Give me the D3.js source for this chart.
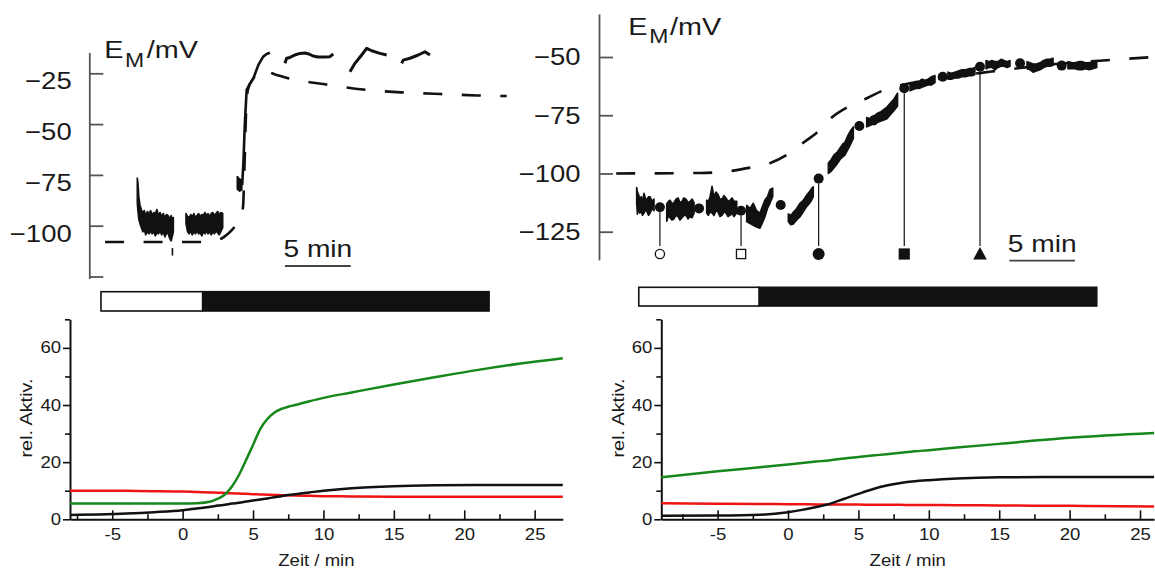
<!DOCTYPE html>
<html><head><meta charset="utf-8">
<script src="https://cdn.jsdelivr.net/npm/d3@7"></script>
<style>body{margin:0;background:#fff}svg{display:block;font-family:"Liberation Sans",Arial,Helvetica,sans-serif}</style>
</head><body><svg id="c" width="1155" height="569"></svg>
<script>
// ================= DATA =================
// --- top-left: membrane potential (t in min, E in mV) ---
const tlTickVals = [-25, -50, -75, -100, -125];
const tlTickLabels = ["−25", "−50", "−75", "−100", ""];
const tlFitT = [-7.42, -3.24, -0.2, 0.71, 1.16, 1.44, 1.92, 2.45, 2.83, 3.06, 3.18, 3.29, 3.44, 3.85, 4.35, 4.5, 5.62, 6.88, 9.29, 12.18, 15.07, 18.03, 20.84, 23.1];
const tlFitV = [-108, -108, -108, -107.8, -107, -106.3, -104, -100.3, -96, -91, -70, -45, -33, -27.5, -24, -23.6, -25.8, -28, -30.4, -33, -34.4, -35.2, -35.9, -36.2];
const tlBand1T = [-4.97,-4.92,-4.85,-4.76,-4.66,-4.55,-4.44,-4.33,-4.2,-4.08,-3.96,-3.84,-3.72,-3.6,-3.48,-3.36,-3.24,-3.12,-3.0,-2.88,-2.76,-2.64,-2.52,-2.4,-2.3,-2.23];
const tlBand1Hi = [-76.5,-79,-86,-90,-92,-94,-92.5,-95,-93,-94.5,-92.5,-95,-93.5,-94,-92,-95,-93.5,-95.5,-94,-96,-94.5,-95,-96.5,-95,-97,-96];
const tlBand1Lo = [-89,-93,-97,-99,-101,-103,-102,-104.5,-103,-104,-102.5,-104,-103,-105,-103.5,-104,-102.5,-104.5,-103,-105.5,-104,-103.5,-106,-107.5,-105,-103];
const tlBand2T = [-1.27,-1.15,-1.03,-0.91,-0.79,-0.67,-0.55,-0.43,-0.31,-0.19,-0.07,0.05,0.17,0.29,0.41,0.53,0.65,0.77,0.89,1.01,1.13,1.25,1.37,1.52];
const tlBand2Hi = [-94,-95.5,-96,-94.5,-95.5,-94,-96,-95,-94,-95.5,-94.5,-95,-93.5,-95,-94,-95.5,-94,-93.5,-95,-94,-93,-94.5,-93.5,-94];
const tlBand2Lo = [-99,-103,-104,-102.5,-104.5,-103,-104,-102.5,-104,-103.5,-105,-103,-104,-102.5,-104,-103,-104.5,-103,-104,-102.5,-103.5,-104.5,-103,-101];
const tlBand3T = [2.63, 2.8, 2.97];
const tlBand3Hi = [-75.8, -77, -77.5];
const tlBand3Lo = [-82, -83, -82.4];
const tlSeg3T = [3.0, 3.1, 3.2, 3.34, 3.6, 3.85, 4.23, 4.6, 4.86, 5.11];
const tlSeg3V = [-80, -68, -50, -33.2, -30, -27.5, -20.9, -16.8, -15.5, -14.9];
const tlSeg4T = [6.25, 6.38, 6.63, 7.0, 7.39, 7.77, 8.07, 8.38, 8.76, 9.29, 9.67, 9.92];
const tlSeg4V = [-20, -17.6, -17.2, -16, -15.2, -15, -15.5, -16.5, -17, -17, -16.8, -15.5];
const tlSeg5T = [11.19, 11.57, 12.08, 12.46, 12.84, 13.47, 13.98];
const tlSeg5V = [-24.2, -20.1, -16, -12.7, -13.9, -15.2, -16];
const tlSeg6T = [15.12, 15.24, 15.75, 16.38, 16.89, 17.27];
const tlSeg6V = [-20.1, -18.5, -17.6, -16, -14.4, -16];
const tlMarkT = [-2.3, -2.3];
const tlMarkV = [-111, -114.7];
const tlBar = [-7.73, 0, 21.76];      // white start, black start, black end (min)
const tlScaleBar = [6.25, 11.25];

// --- top-right ---
const trTickVals = [-50, -75, -100, -125];
const trTickLabels = ["−50", "−75", "−100", "−125"];
const trFitT = [-10.9, -4.5, -2.1, -0.7, 0.8, 2.1, 3.35, 4.37, 5.6, 6.8, 8.2, 9.4, 12.2, 14.5, 16.9, 18.2, 22, 25.9, 30];
const trFitV = [-100, -99.8, -98.9, -97.5, -95.6, -92, -86.8, -82.5, -75.6, -71.3, -67.7, -64.4, -60.5, -58.5, -56.8, -55.9, -53.3, -51.6, -50];
const trBands = [
  { t: [-9.34,-9.28,-9.2,-9.1,-9.0,-8.9,-8.78,-8.66,-8.55,-8.43,-8.32,-8.17,-8.02],
    hi: [-106,-108,-109,-111,-110,-112,-108.5,-111,-111,-110,-110,-112,-111],
    lo: [-113,-117.5,-115,-117,-116,-118,-117,-115.5,-116.5,-118,-117,-115,-116] },
  { t: [-7.05,-6.92,-6.8,-6.65,-6.5,-6.35,-6.19,-6.04,-5.89,-5.74,-5.58,-5.43,-5.28,-5.12,-4.97],
    hi: [-113,-112,-111.5,-113,-112.5,-111,-110.5,-112.5,-112,-110.5,-111,-112.5,-112,-111,-112.5],
    lo: [-120.5,-118,-119,-120,-119.5,-118,-118.5,-120,-119,-118,-118,-119.5,-118.5,-119,-117] },
  { t: [-4.01,-3.88,-3.75,-3.6,-3.45,-3.3,-3.15,-3.0,-2.84,-2.69,-2.54,-2.38,-2.23,-2.08,-1.93,-1.72],
    hi: [-111.5,-112,-110,-105.5,-110,-108,-109,-111,-111,-109.5,-110.5,-112,-111.5,-110.5,-112,-112],
    lo: [-117,-118,-116.5,-117,-118,-116,-116.5,-118.5,-118,-116.5,-117,-118.5,-118,-117,-118.5,-117] },
  { t: [-0.96,-0.7,-0.46,-0.2,0.05,0.25,0.43,0.62,0.81,1.02],
    hi: [-113.7,-115,-112.8,-116,-117,-114,-111.4,-110,-107,-106.3],
    lo: [-120.6,-121.5,-122.2,-123,-123.5,-121,-118.6,-115,-112.8,-110] },
  { t: [2.21,2.4,2.59,2.85,3.10,3.35,3.61,3.8,3.99,4.11],
    hi: [-117.4,-118,-116.7,-115,-112.8,-111.5,-109.3,-108,-106.4,-105.7],
    lo: [-120.6,-122,-121.7,-120,-118.6,-116.5,-114.2,-113,-111.4,-110] },
  { t: [5.26,5.48,5.69,5.92,6.15,6.34,6.53,6.72,6.91,7.16],
    hi: [-95.5,-94,-92,-91,-89,-87.5,-86.5,-84,-82,-80],
    lo: [-100,-99,-97.5,-96,-94,-93,-92,-90,-88,-85] },
  { t: [8.18,8.38,8.58,8.81,9.04,9.27,9.49,9.72,9.95,10.26,10.53],
    hi: [-76,-76.5,-75.5,-75,-74,-73.5,-72.5,-71.5,-70,-68,-65.5],
    lo: [-80,-79.5,-79,-79,-78,-77.5,-77,-76.5,-75,-73,-71] },
  { t: [11.48,11.7,11.93,12.16,12.39,12.62,12.85,13.1,13.38],
    hi: [-61.5,-61.5,-61,-60.5,-59.5,-60,-59.5,-58.5,-58],
    lo: [-64.5,-64,-63.5,-63.5,-63,-62.5,-62,-62,-61] },
  { t: [14.37,14.63,14.9,15.16,15.43,15.7,15.97,16.2,16.42],
    hi: [-56.5,-57,-56.5,-56,-55.5,-55.5,-55,-55,-54.5],
    lo: [-59.5,-59.5,-59,-59,-58.5,-58.5,-58,-58,-57.5] },
  { t: [17.27,17.5,17.72,17.95,18.18,18.41,18.64,18.87,19.09],
    hi: [-51.5,-52,-51.5,-52,-52,-51,-51.5,-52,-51.5],
    lo: [-55,-54.5,-54.5,-55.5,-54.5,-54,-54,-54.5,-54] },
  { t: [20.39,20.62,20.85,21.1,21.38,21.65,21.91,22.14,22.37],
    hi: [-52,-52.5,-53,-53,-52.5,-51.5,-51,-51,-50.5],
    lo: [-55,-55.5,-56.5,-56,-55.5,-54.5,-54,-54,-53.5] },
  { t: [23.51,23.78,24.05,24.31,24.58,24.85,25.11,25.4,25.7],
    hi: [-52,-52.5,-52.5,-52,-52,-52.5,-52.5,-52,-52.5],
    lo: [-55,-55,-55,-55.5,-55.5,-55,-55.5,-55,-54.5] }
];
const trDotT = [-7.57, -4.59, -1.39, 1.63, 4.52, 7.62, 11.04, 13.97, 16.81, 19.86, 23.03];
const trDotV = [-114.5, -115, -116, -113.5, -102.2, -79.6, -63.4, -58.5, -54.2, -52.7, -53.7];
const trMarkerDot = [0, 2, 4, 6, 8];
const trMarkerShape = ["circleOpen", "squareOpen", "circle", "square", "triangle"];
const trBar = [-9.18, 0, 25.7];
const trScaleBar = [19.04, 24.04];

// --- bottom-left: relative activities ---
const blT     = [-8, -6, -4, -2, 0, 1, 2, 2.5, 3, 3.5, 4, 4.5, 5, 5.5, 6, 6.5, 7, 7.5, 8, 9, 10, 12, 15, 18, 21, 24, 27];
const blGreen = [5.5, 5.5, 5.5, 5.5, 5.5, 5.6, 6.2, 7.2, 8.7, 11.5, 15.5, 20.7, 26, 31.5, 35, 37.3, 38.6, 39.4, 40, 41.3, 42.5, 44.4, 47.2, 49.8, 52.3, 54.5, 56.4];
const blRed   = [10.0, 10.0, 9.95, 9.85, 9.7, 9.55, 9.4, 9.3, 9.2, 9.1, 9.0, 8.9, 8.8, 8.7, 8.6, 8.5, 8.45, 8.4, 8.3, 8.2, 8.1, 8.0, 7.9, 7.9, 7.9, 7.9, 7.9];
const blBlack = [1.5, 1.7, 2.0, 2.5, 3.2, 3.8, 4.4, 4.8, 5.1, 5.5, 5.8, 6.2, 6.6, 6.9, 7.3, 7.7, 8.1, 8.5, 8.8, 9.4, 10.0, 10.9, 11.6, 11.9, 12.0, 12.0, 12.0];
// --- bottom-right ---
const brT     = [-9, -5, -2, 0, 1, 2, 3, 4, 5, 6, 7, 8, 9, 10, 12, 15, 20, 26];
const brGreen = [14.7, 16.8, 18.2, 19.2, 19.7, 20.2, 20.7, 21.3, 21.8, 22.3, 22.8, 23.3, 23.8, 24.2, 25.1, 26.4, 28.5, 30.2];
const brRed   = [5.6, 5.45, 5.35, 5.3, 5.25, 5.2, 5.2, 5.15, 5.15, 5.1, 5.1, 5.05, 5.0, 5.0, 4.95, 4.85, 4.7, 4.5];
const brBlack = [1.2, 1.3, 1.6, 2.5, 3.3, 4.3, 5.5, 7.2, 8.9, 10.5, 11.8, 12.7, 13.3, 13.7, 14.3, 14.7, 14.8, 14.8];
const bYTicks = [0, 20, 40, 60];
const bYMinor = [10, 30, 50, 70];
const bXTicks = [-5, 0, 5, 10, 15, 20, 25];
const bXMinor = [-7.5, -2.5, 2.5, 7.5, 12.5, 17.5, 22.5];
const bXLabel = "Zeit / min";
const bYLabel = "rel. Aktiv.";

// ================= DRAW =================
const svg = d3.select("#c");
const INK = "#111";
const GREEN = "#16871a", RED = "#ee1414";

function sText(parent, x, y, str, size, sx, anchor) {
  return parent.append("text")
    .attr("transform", `translate(${x},${y}) scale(${sx},1)`)
    .attr("text-anchor", anchor || "start")
    .attr("font-size", size).attr("fill", "#1a1a1a").text(str);
}

function topPanel(cfg) {
  const g = svg.append("g");
  const x = cfg.x, y = cfg.y;
  // axis
  const yAx = y.copy().domain(cfg.axisDom).range(cfg.axisDom.map(y));
  const axis = d3.axisRight(yAx).tickValues(cfg.ticks).tickSize(14).tickSizeOuter(0).tickFormat("");
  const ga = g.append("g").attr("transform", `translate(${cfg.axisX},0)`).call(axis);
  ga.selectAll("path,line").attr("stroke", "#555").attr("stroke-width", 1.8);
  cfg.ticks.forEach((v, i) => {
    if (cfg.labels[i]) sText(g, cfg.labelRight, y(v) + cfg.labelDy, cfg.labels[i], 23.5, 1.17, "end");
  });
  // E_M / mV title
  sText(g, cfg.titleX[0], cfg.titleY, "E", 24, 1.2);
  sText(g, cfg.titleX[1], cfg.titleY + 8.4, "M", 20, 1.15);
  sText(g, cfg.titleX[2], cfg.titleY, "/mV", 24, 1.2);
  // fit (dashed)
  const line = d3.line().x(d => x(d[0])).y(d => y(d[1]));
  g.append("path").datum(d3.zip(cfg.fitT, cfg.fitV))
    .attr("d", line.curve(d3.curveMonotoneX)).attr("fill", "none")
    .attr("stroke", INK).attr("stroke-width", 2.6).attr("stroke-dasharray", "19,19.5");
  // noisy bands
  const area = d3.area().x(d => x(d.t)).y0(d => y(d.lo)).y1(d => y(d.hi));
  cfg.bands.forEach(b => {
    const pts = b.t.map((t, i) => ({ t, lo: b.lo[i], hi: b.hi[i] }));
    g.append("path").datum(pts).attr("d", area).attr("fill", INK)
      .attr("stroke", INK).attr("stroke-width", 1.6).attr("stroke-linejoin", "round");
  });
  // smooth segments
  const lin = d3.line().x(d => x(d[0])).y(d => y(d[1]));
  cfg.segs.forEach(s => {
    g.append("path").datum(d3.zip(s[0], s[1])).attr("d", lin).attr("fill", "none")
      .attr("stroke", INK).attr("stroke-width", s[2] || 2.6).attr("stroke-linejoin", "round");
  });
  // condition bar
  const [w0, b0, b1] = cfg.bar;
  g.append("rect").attr("x", x(w0)).attr("y", cfg.barY).attr("width", x(b0) - x(w0)).attr("height", cfg.barH)
    .attr("fill", "#fff").attr("stroke", INK).attr("stroke-width", 1.6);
  g.append("rect").attr("x", x(b0)).attr("y", cfg.barY).attr("width", x(b1) - x(b0)).attr("height", cfg.barH)
    .attr("fill", INK).attr("stroke", INK).attr("stroke-width", 1.6);
  // scale bar
  g.append("line").attr("x1", x(cfg.scaleBar[0])).attr("x2", x(cfg.scaleBar[1]))
    .attr("y1", cfg.scaleY).attr("y2", cfg.scaleY).attr("stroke", "#444").attr("stroke-width", 1.8);
  sText(g, (x(cfg.scaleBar[0]) + x(cfg.scaleBar[1])) / 2, cfg.scaleY - 9, "5 min", 23.5, 1.2, "middle");
  return g;
}

// top-left
const xTL = d3.scaleLinear().domain([0, 5]).range([202.7, 268.5]);
const yTL = d3.scaleLinear().domain([-25, -100]).range([73.3, 225.7]);
const gTL = topPanel({
  x: xTL, y: yTL, axisDom: [-14.7, -126], axisX: 89.3, ticks: tlTickVals, labels: tlTickLabels,
  labelRight: 71.7, labelDy: 16, titleX: [104.3, 125, 146.7], titleY: 58.3,
  fitT: tlFitT, fitV: tlFitV,
  bands: [
    { t: tlBand1T, hi: tlBand1Hi, lo: tlBand1Lo },
    { t: tlBand2T, hi: tlBand2Hi, lo: tlBand2Lo },
    { t: tlBand3T, hi: tlBand3Hi, lo: tlBand3Lo }
  ],
  segs: [[tlSeg3T, tlSeg3V], [tlSeg4T, tlSeg4V, 3], [tlSeg5T, tlSeg5V, 3], [tlSeg6T, tlSeg6V, 3], [tlMarkT, tlMarkV, 1.6]],
  bar: tlBar, barY: 291.7, barH: 19.3, scaleBar: tlScaleBar, scaleY: 266
});

// top-right
const xTR = d3.scaleLinear().domain([0, 5]).range([759.3, 824.95]);
const yTR = d3.scaleLinear().domain([-50, -125]).range([57, 231.7]);
const gTR = topPanel({
  x: xTR, y: yTR, axisDom: [-31.5, -137.1], axisX: 599, ticks: trTickVals, labels: trTickLabels,
  labelRight: 580.6, labelDy: 8.4, titleX: [628.3, 649.3, 670], titleY: 35,
  fitT: trFitT, fitV: trFitV, bands: trBands, segs: [],
  bar: trBar, barY: 287.3, barH: 18.7, scaleBar: trScaleBar, scaleY: 260.7
});
// dots, drop lines and markers
const markerRowY = 254, lineBottomY = 246;
trMarkerDot.forEach((di, k) => {
  const cx = xTR(trDotT[di]);
  gTR.append("line").attr("x1", cx).attr("x2", cx).attr("y1", yTR(trDotV[di]) + 5)
    .attr("y2", lineBottomY).attr("stroke", INK).attr("stroke-width", 1.2);
  const s = trMarkerShape[k];
  if (s === "circleOpen") gTR.append("circle").attr("cx", cx).attr("cy", markerRowY).attr("r", 4.6)
    .attr("fill", "#fff").attr("stroke", INK).attr("stroke-width", 1.3);
  if (s === "squareOpen") gTR.append("rect").attr("x", cx - 4.6).attr("y", markerRowY - 4.6).attr("width", 9.2).attr("height", 9.2)
    .attr("fill", "#fff").attr("stroke", INK).attr("stroke-width", 1.3);
  if (s === "circle") gTR.append("circle").attr("cx", cx).attr("cy", markerRowY).attr("r", 6).attr("fill", INK);
  if (s === "square") gTR.append("rect").attr("x", cx - 5.6).attr("y", markerRowY - 5.6).attr("width", 11.2).attr("height", 11.2).attr("fill", INK);
  if (s === "triangle") gTR.append("path").attr("d", `M${cx},${markerRowY - 7}L${cx + 6.8},${markerRowY + 5.5}L${cx - 6.8},${markerRowY + 5.5}Z`).attr("fill", INK);
});
gTR.selectAll("circle.dot").data(d3.zip(trDotT, trDotV)).join("circle").attr("class", "dot")
  .attr("cx", d => xTR(d[0])).attr("cy", d => yTR(d[1])).attr("r", 5).attr("fill", INK);

// bottom panels
function bottomPanel(xs, ys, T, G, R, K, ylabX) {
  const g = svg.append("g");
  const [x0, x1] = xs.range();
  const y0 = ys.range()[0];
  const yAxis = g.append("g").attr("transform", `translate(${x0},0)`)
    .call(d3.axisLeft(ys).tickValues(bYTicks).tickSize(7).tickPadding(3).tickSizeOuter(0));
  g.append("g").attr("transform", `translate(${x0},0)`)
    .call(d3.axisLeft(ys).tickValues(bYMinor).tickSize(5).tickFormat("")).select(".domain").remove();
  const xAxis = g.append("g").attr("transform", `translate(0,${y0})`)
    .call(d3.axisBottom(xs).tickValues(bXTicks).tickSize(-9).tickPadding(9).tickSizeOuter(0).tickFormat(d => String(d)));
  g.append("g").attr("transform", `translate(0,${y0})`)
    .call(d3.axisBottom(xs).tickValues(bXMinor).tickSize(-5).tickFormat("")).select(".domain").remove();
  g.selectAll(".domain").attr("stroke", INK).attr("stroke-width", 2);
  g.selectAll(".tick line").attr("stroke", INK).attr("stroke-width", 1.6);
  g.selectAll(".tick text").attr("font-size", 16).attr("fill", "#1a1a1a")
    .attr("font-family", '"Liberation Sans",Arial,sans-serif').attr("transform", "scale(1.16,1)");
  yAxis.selectAll(".tick text").attr("x", -9 / 1.16);
  const line = d3.line().x(d => xs(d[0])).y(d => ys(d[1])).curve(d3.curveMonotoneX);
  [[R, RED], [K, INK], [G, GREEN]].forEach(([vals, col]) => {
    g.append("path").datum(d3.zip(T, vals)).attr("d", line).attr("fill", "none")
      .attr("stroke", col).attr("stroke-width", 2.5);
  });
  sText(g, (x0 + x1) / 2, 566, bXLabel, 16, 1.16, "middle");
  g.append("text").attr("transform", `translate(${ylabX},418) rotate(-90)`).attr("text-anchor", "middle")
    .attr("font-size", 17).attr("fill", "#1a1a1a").attr("textLength", 79).attr("lengthAdjust", "spacingAndGlyphs")
    .text(bYLabel);
}
const yB = d3.scaleLinear().domain([0, 70]).range([519.3, 319.3]);
const xBL = d3.scaleLinear().domain([-8, 27]).range([70, 562.8]);
const xBR = d3.scaleLinear().domain([-9, 26]).range([661.3, 1154.1]);
bottomPanel(xBL, yB, blT, blGreen, blRed, blBlack, 31.5);
bottomPanel(xBR, yB, brT, brGreen, brRed, brBlack, 623.5);
</script>
</body></html>
